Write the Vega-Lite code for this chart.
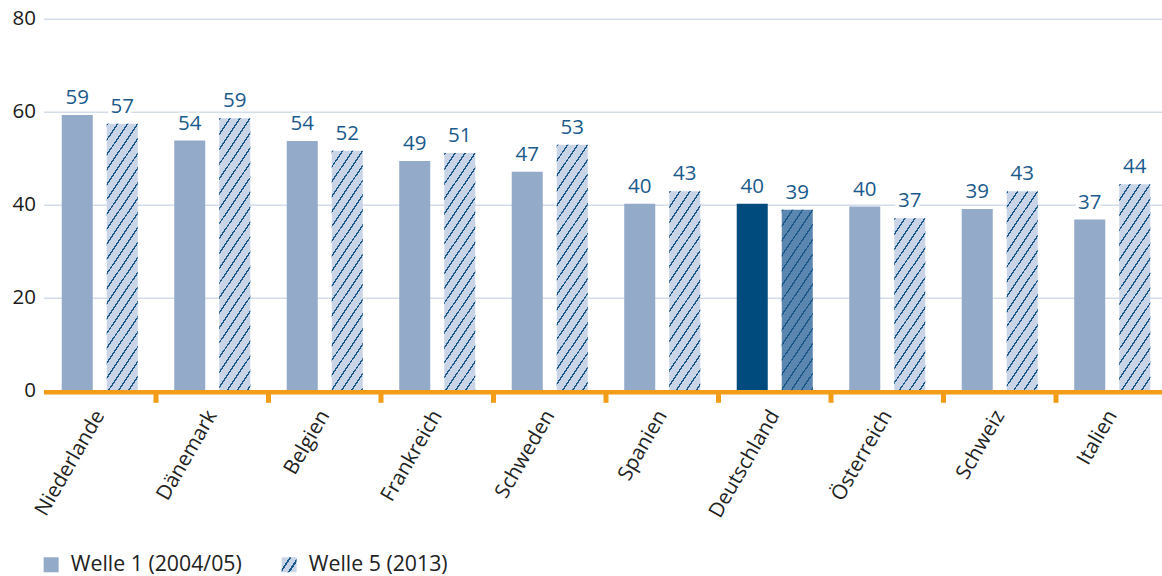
{
  "$schema": "https://vega.github.io/schema/vega-lite/v6.json",
  "width": 1118.5,
  "height": 372,
  "autosize": {"type": "none"},
  "padding": {"left": 43.5, "top": 18.7, "right": 0, "bottom": 185.3},
  "background": "white",
  "config": {"font": "Open Sans", "view": {"stroke": null}},
  "data": {
    "values": [
      {"country": "Niederlande", "wave": "Welle 1 (2004/05)", "value": 59.3},
      {"country": "Niederlande", "wave": "Welle 5 (2013)", "value": 57.4},
      {"country": "Dänemark", "wave": "Welle 1 (2004/05)", "value": 53.8},
      {"country": "Dänemark", "wave": "Welle 5 (2013)", "value": 58.6},
      {"country": "Belgien", "wave": "Welle 1 (2004/05)", "value": 53.7},
      {"country": "Belgien", "wave": "Welle 5 (2013)", "value": 51.6},
      {"country": "Frankreich", "wave": "Welle 1 (2004/05)", "value": 49.4},
      {"country": "Frankreich", "wave": "Welle 5 (2013)", "value": 51.1},
      {"country": "Schweden", "wave": "Welle 1 (2004/05)", "value": 47.1},
      {"country": "Schweden", "wave": "Welle 5 (2013)", "value": 52.9},
      {"country": "Spanien", "wave": "Welle 1 (2004/05)", "value": 40.2},
      {"country": "Spanien", "wave": "Welle 5 (2013)", "value": 42.9},
      {"country": "Deutschland", "wave": "Welle 1 (2004/05)", "value": 40.2},
      {"country": "Deutschland", "wave": "Welle 5 (2013)", "value": 38.9},
      {"country": "Österreich", "wave": "Welle 1 (2004/05)", "value": 39.6},
      {"country": "Österreich", "wave": "Welle 5 (2013)", "value": 37.1},
      {"country": "Schweiz", "wave": "Welle 1 (2004/05)", "value": 39.1},
      {"country": "Schweiz", "wave": "Welle 5 (2013)", "value": 42.9},
      {"country": "Italien", "wave": "Welle 1 (2004/05)", "value": 36.8},
      {"country": "Italien", "wave": "Welle 5 (2013)", "value": 44.4}
    ]
  },
  "encoding": {
    "x": {
      "field": "country",
      "type": "nominal",
      "sort": ["Niederlande", "Dänemark", "Belgien", "Frankreich", "Schweden", "Spanien", "Deutschland", "Österreich", "Schweiz", "Italien"],
      "scale": {"range": [0, 1125], "paddingInner": 0, "paddingOuter": 0},
      "axis": {
        "title": null,
        "labelAngle": -60,
        "labelAlign": "right",
        "labelBaseline": "middle",
        "labelFontSize": 20.5,
        "labelFont": "Open Sans",
        "labelColor": "#222222",
        "labelPadding": 20,
        "labelLimit": 400,
        "domainColor": "#f39c17",
        "domainWidth": 4.5,
        "ticks": false,
        "offset": 1,
        "grid": false,
        "zindex": 1
      }
    },
    "y": {
      "field": "value",
      "type": "quantitative",
      "scale": {"domain": [0, 80], "nice": false},
      "axis": {
        "title": null,
        "values": [0, 20, 40, 60, 80],
        "domain": false,
        "ticks": false,
        "labelFontSize": 20.5,
        "labelFont": "Open Sans",
        "labelColor": "#1a1a1a",
        "labelPadding": 8,
        "labelFlush": false,
        "gridColor": "#d3dce9",
        "gridWidth": 1.5
      }
    }
  },
  "layer": [
    {
      "mark": {"type": "bar", "strokeWidth": 0},
      "encoding": {
        "xOffset": {"field": "wave", "type": "nominal", "scale": {"paddingInner": 0.311, "paddingOuter": 0.405}},
        "fill": {
          "field": "wave",
          "type": "nominal",
          "scale": {"range": ["#93aac9", "#c9d5e7"]},
          "condition": [
            {"test": "datum.country == 'Deutschland' && datum.wave == 'Welle 1 (2004/05)'", "value": "#004b7d"},
            {"test": "datum.country == 'Deutschland'", "value": "#5b86b0"}
          ],
          "legend": {
            "title": null,
            "orient": "none",
            "legendX": -3,
            "legendY": 535,
            "direction": "horizontal",
            "symbolType": "square",
            "symbolSize": 49,
            "symbolStrokeWidth": 8,
            "labelFontSize": 21.3,
            "labelFont": "Open Sans",
            "labelColor": "#222222",
            "labelLimit": 400,
            "labelOffset": 9,
            "columnPadding": 27,
            "padding": 0,
            "encode": {
              "symbols": {
                "update": {
                  "stroke": [
                    {
                      "test": "datum.value == 'Welle 5 (2013)'",
                      "value": {
                        "gradient": "linear",
                        "x1": -0.571, "y1": -0.571, "x2": 2.272, "y2": 1.346,
                        "stops": [
                          {"offset": 0, "color": "#c9d5e7"},
                          {"offset": 0.27, "color": "#c9d5e7"},
                          {"offset": 0.27, "color": "#185787"},
                          {"offset": 0.345, "color": "#185787"},
                          {"offset": 0.345, "color": "#c9d5e7"},
                          {"offset": 0.55, "color": "#c9d5e7"},
                          {"offset": 0.55, "color": "#185787"},
                          {"offset": 0.625, "color": "#185787"},
                          {"offset": 0.625, "color": "#c9d5e7"},
                          {"offset": 1, "color": "#c9d5e7"}
                        ]
                      }
                    },
                    {"value": "#93aac9"}
                  ],
                  "strokeWidth": {"value": 8}
                }
              }
            }
          }
        }
      }
    },
    {
      "transform": [{"filter": "datum.wave == 'Welle 5 (2013)'"}],
      "mark": {
        "type": "bar",
        "strokeWidth": 0,
        "fill": {"expr": "{gradient:'linear',x1:0,y1:0,x2:0.1236/(0.01528+pow(datum.value*0.0125,2)),y2:datum.value*0.0125/(0.01528+pow(datum.value*0.0125,2)),stops:[{offset:0,color:'transparent'},{offset:0,color:'#185787'},{offset:0.0065,color:'#185787'},{offset:0.0065,color:'transparent'},{offset:0.04,color:'transparent'},{offset:0.04,color:'#185787'},{offset:0.0465,color:'#185787'},{offset:0.0465,color:'transparent'},{offset:0.08,color:'transparent'},{offset:0.08,color:'#185787'},{offset:0.0865,color:'#185787'},{offset:0.0865,color:'transparent'},{offset:0.12,color:'transparent'},{offset:0.12,color:'#185787'},{offset:0.1265,color:'#185787'},{offset:0.1265,color:'transparent'},{offset:0.16,color:'transparent'},{offset:0.16,color:'#185787'},{offset:0.1665,color:'#185787'},{offset:0.1665,color:'transparent'},{offset:0.2,color:'transparent'},{offset:0.2,color:'#185787'},{offset:0.2065,color:'#185787'},{offset:0.2065,color:'transparent'},{offset:0.24,color:'transparent'},{offset:0.24,color:'#185787'},{offset:0.2465,color:'#185787'},{offset:0.2465,color:'transparent'},{offset:0.28,color:'transparent'},{offset:0.28,color:'#185787'},{offset:0.2865,color:'#185787'},{offset:0.2865,color:'transparent'},{offset:0.32,color:'transparent'},{offset:0.32,color:'#185787'},{offset:0.3265,color:'#185787'},{offset:0.3265,color:'transparent'},{offset:0.36,color:'transparent'},{offset:0.36,color:'#185787'},{offset:0.3665,color:'#185787'},{offset:0.3665,color:'transparent'},{offset:0.4,color:'transparent'},{offset:0.4,color:'#185787'},{offset:0.4065,color:'#185787'},{offset:0.4065,color:'transparent'},{offset:0.44,color:'transparent'},{offset:0.44,color:'#185787'},{offset:0.4465,color:'#185787'},{offset:0.4465,color:'transparent'},{offset:0.48,color:'transparent'},{offset:0.48,color:'#185787'},{offset:0.4865,color:'#185787'},{offset:0.4865,color:'transparent'},{offset:0.52,color:'transparent'},{offset:0.52,color:'#185787'},{offset:0.5265,color:'#185787'},{offset:0.5265,color:'transparent'},{offset:0.56,color:'transparent'},{offset:0.56,color:'#185787'},{offset:0.5665,color:'#185787'},{offset:0.5665,color:'transparent'},{offset:0.6,color:'transparent'},{offset:0.6,color:'#185787'},{offset:0.6065,color:'#185787'},{offset:0.6065,color:'transparent'},{offset:0.64,color:'transparent'},{offset:0.64,color:'#185787'},{offset:0.6465,color:'#185787'},{offset:0.6465,color:'transparent'},{offset:0.68,color:'transparent'},{offset:0.68,color:'#185787'},{offset:0.6865,color:'#185787'},{offset:0.6865,color:'transparent'},{offset:0.72,color:'transparent'},{offset:0.72,color:'#185787'},{offset:0.7265,color:'#185787'},{offset:0.7265,color:'transparent'},{offset:0.76,color:'transparent'},{offset:0.76,color:'#185787'},{offset:0.7665,color:'#185787'},{offset:0.7665,color:'transparent'},{offset:0.8,color:'transparent'},{offset:0.8,color:'#185787'},{offset:0.8065,color:'#185787'},{offset:0.8065,color:'transparent'},{offset:0.84,color:'transparent'},{offset:0.84,color:'#185787'},{offset:0.8465,color:'#185787'},{offset:0.8465,color:'transparent'},{offset:0.88,color:'transparent'},{offset:0.88,color:'#185787'},{offset:0.8865,color:'#185787'},{offset:0.8865,color:'transparent'},{offset:0.92,color:'transparent'},{offset:0.92,color:'#185787'},{offset:0.9265,color:'#185787'},{offset:0.9265,color:'transparent'},{offset:0.96,color:'transparent'},{offset:0.96,color:'#185787'},{offset:0.9665,color:'#185787'},{offset:0.9665,color:'transparent'},{offset:1,color:'transparent'}]}"}
      },
      "encoding": {
        "xOffset": {"field": "wave", "type": "nominal"}
      }
    },
    {
      "transform": [{"filter": "datum.wave == 'Welle 1 (2004/05)' && datum.country != 'Niederlande'"}],
      "mark": {"type": "rule", "color": "#f39c17", "strokeWidth": 5},
      "encoding": {
        "x": {"field": "country", "type": "nominal", "bandPosition": 0, "sort": ["Niederlande", "Dänemark", "Belgien", "Frankreich", "Schweden", "Spanien", "Deutschland", "Österreich", "Schweiz", "Italien"]},
        "y": {"datum": -0.4},
        "y2": {"datum": -2.6}
      }
    },
    {
      "mark": {"type": "text", "dy": -11, "baseline": "alphabetic", "fontSize": 20.5, "font": "Open Sans", "fill": "white", "stroke": "white", "strokeWidth": 7, "strokeJoin": "round"},
      "encoding": {
        "xOffset": {"field": "wave", "type": "nominal"},
        "text": {"field": "value", "type": "quantitative", "format": ".0f"}
      }
    },
    {
      "mark": {"type": "text", "dy": -11, "baseline": "alphabetic", "fontSize": 20.5, "font": "Open Sans", "fill": "#1a5a8c"},
      "encoding": {
        "xOffset": {"field": "wave", "type": "nominal"},
        "text": {"field": "value", "type": "quantitative", "format": ".0f"}
      }
    }
  ]
}
